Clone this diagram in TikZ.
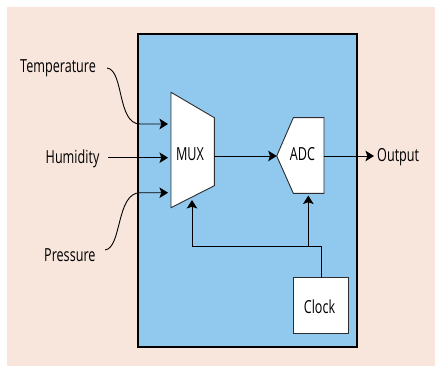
\documentclass[tikz,border=0pt]{standalone}
\usepackage{fontspec}
\setmainfont{Open Sans}[FakeStretch=0.7]
\usetikzlibrary{arrows.meta}
\definecolor{peach}{RGB}{248,230,221}
\definecolor{panel}{RGB}{145,201,238}
\definecolor{edgegray}{RGB}{45,45,45}
\begin{document}
\begin{tikzpicture}[x=1pt,y=-1pt,
  font=\fontsize{18}{20}\selectfont,
  conn/.style={line width=0.9pt, draw=black},
  arr/.style={conn, -{Stealth[length=8.5pt,width=10.5pt,inset=1.8pt]}},
  shapebox/.style={fill=white, draw=edgegray, line width=0.9pt},
  lbl/.style={inner sep=0pt, anchor=base west}]
\useasboundingbox (0,0) rectangle (435,366);
\fill[peach] (7,7) rectangle (435,366);
\draw[fill=panel, draw=black, line width=1.2pt] (138,34) rectangle (357,347);

% MUX
\coordinate (m1) at (171,92.3);
\coordinate (m2) at (214.3,117.7);
\coordinate (m3) at (214.3,185.7);
\coordinate (m4) at (171,207.7);
\draw[shapebox] (m1)--(m2)--(m3)--(m4)--cycle;
\node[inner sep=0pt, anchor=base] (mux) at (190,160) {MUX};

% ADC
\coordinate (a1) at (276.7,156);
\coordinate (a2) at (293.3,117.7);
\coordinate (a3) at (324,117.7);
\coordinate (a4) at (324,193.3);
\coordinate (a5) at (293.3,193.3);
\draw[shapebox] (a1)--(a2)--(a3)--(a4)--(a5)--cycle;
\node[inner sep=0pt, anchor=base] (adc) at (302.5,160) {ADC};

% Clock
\node[shapebox, minimum width=55pt, minimum height=56pt, inner sep=0pt, anchor=north west] (clock) at (293.3,277.3) {};
\node[inner sep=0pt, anchor=base] (clocktxt) at (319.5,313.3) {Clock};

% labels
\node[lbl] (temp) at (20,72.5) {Temperature};
\node[lbl] (hum) at (45.5,163.3) {Humidity};
\node[lbl] (pres) at (44,261) {Pressure};
\node[lbl] (out) at (377,161.7) {Output};

% input points
\coordinate (inT) at (168,124);
\coordinate (inH) at (168,157.7);
\coordinate (inP) at (168,192.7);
\coordinate (tS) at (107,68);
\coordinate (pS) at (105,250);
\coordinate (hS) at (108,157.7);

\draw[arr] (tS) .. controls (124,70) and (117,124) .. (140,124) -- (inT);
\draw[arr] (hS) -- (inH);
\draw[arr] (pS) .. controls (122,248) and (116,193) .. (140,192.7) -- (inP);

% MUX -> ADC -> Output
\coordinate (muxout) at (214.3,156);
\coordinate (adcout) at (324,156);
\coordinate (outtip) at (374,156);
\draw[arr] (muxout) -- (a1);
\draw[arr] (adcout) -- (outtip);

% clock distribution
\coordinate (cTop) at (321,277.3);
\coordinate (cBend) at (321,246);
\coordinate (cLeft) at (192,246);
\coordinate (muxclk) at (192,200);
\coordinate (cBr) at (308.3,246);
\coordinate (adcclk) at (308.3,195.5);
\draw[arr] (cTop) -- (cBend) -- (cLeft) -- (muxclk);
\draw[arr] (cBr) -- (adcclk);
\end{tikzpicture}
\end{document}
